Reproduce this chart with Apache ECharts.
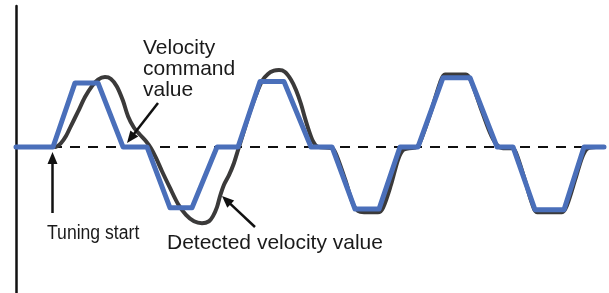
<!DOCTYPE html>
<html>
<head>
<meta charset="utf-8">
<script src="https://cdn.jsdelivr.net/npm/echarts@6/dist/echarts.min.js"></script>
<style>
html,body{margin:0;padding:0;background:#fff;}
#c{width:609px;height:293px;}
</style>
</head>
<body>
<div id="c"></div>
<script>
// time (arbitrary units) and velocity (% of command amplitude)
var commandTime = [0,37,59,82,107,131,154,176,201,222,244,268,295,316,339,363,384,402,427,454,481,497,519,548,568,588];
var commandValue = [0,0,100,100,0,0,-95,-95,0,0,102,102,0,0,-97,-97,0,0,108,108,0,0,-98,-98,0,0];

var detectedTime = [0,39,45,50,55,62,69,76,82,89,95,101,107,112,118,124,130,135,140,146,154,162,170,178,186,193,197,201,204,208,213,218,222,227,234,240,246,252,258,263,269,275,280,285,289,293,297,302,316,320,329,337,342,348,362,367,375,382,387,393,401,405,415,424,429,450,455,464,474,480,487,496,500,509,516,521,546,551,559,566,571,580,588];
var detectedValue = [0,0,6,17,33,55,78,95,105,109,106,94,72,48,30,19,9,-2,-17,-38,-64,-89,-106,-116,-119,-116,-108,-94,-77,-59,-44,-25,-5,20,55,81,103,114,119,120,117,105,89,67,45,25,9,0,-2,-11,-50,-89,-100,-102,-102,-95,-59,-20,-5,-2,0,11,55,100,113,113,103,64,22,5,-2,-2,-9,-52,-88,-102,-102,-91,-52,-17,-3,0,0];

var labelCommand = ['Velocity','command','value'];
var labelStart = 'Tuning start';
var labelDetected = 'Detected velocity value';

function pairs(xs, ys){ return xs.map(function(x,i){ return [x, ys[i]]; }); }

function arrow(x1,y1,x2,y2){
  var dx = x2-x1, dy = y2-y1, L = Math.sqrt(dx*dx+dy*dy);
  var ux = dx/L, uy = dy/L, hl = 12, hw = 5;
  var bx = x2 - ux*hl, by = y2 - uy*hl;
  return [
    {type:'line', shape:{x1:x1,y1:y1,x2:bx+ux*2,y2:by+uy*2}, style:{stroke:'#111',lineWidth:2.5}, z:20},
    {type:'polygon', shape:{points:[[x2,y2],[bx-uy*hw,by+ux*hw],[bx+uy*hw,by-ux*hw]]}, style:{fill:'#111'}, z:20}
  ];
}

var font = '"Liberation Sans", Arial, sans-serif';
function txt(s,x,y,size,sx){
  return {type:'text', x:x, y:y, z:20, scaleX: sx || 1, style:{text:s, fill:'#1a1a1a', font: size+'px '+font, textVerticalAlign:'middle', verticalAlign:'middle'}};
}

var graphics = [].concat(
  arrow(158,103,127,143),
  arrow(52.5,213,52.5,152),
  arrow(255,227,222,196),
  [txt(labelCommand[0],143,48,21), txt(labelCommand[1],143,69,21), txt(labelCommand[2],143,90,21),
   txt(labelStart,47,233,20,0.88), txt(labelDetected,167,243,21)]
);

var chart = echarts.init(document.getElementById('c'), null, {renderer:'canvas'});
chart.setOption({
  animation:false,
  grid:{left:16,right:0,top:6,bottom:0},
  xAxis:{type:'value',min:0,max:593,show:false},
  yAxis:{type:'value',min:-228,max:220,
    axisLine:{show:true,lineStyle:{color:'#111',width:2.5}},
    axisTick:{show:false},axisLabel:{show:false},splitLine:{show:false}},
  series:[
    {name:'Detected velocity value', type:'line', data:pairs(detectedTime,detectedValue),
      showSymbol:false, smooth:0.3, z:2,
      lineStyle:{color:'#3b3a3a',width:4,cap:'round',join:'round'},
      markLine:{silent:true, symbol:'none', z:1, label:{show:false},
        lineStyle:{color:'#111',width:2,type:[10,8]}, data:[{yAxis:0}]}},
    {name:'Velocity command value', type:'line', data:pairs(commandTime,commandValue),
      showSymbol:false, z:3,
      lineStyle:{color:'#4a6fba',width:5,cap:'round',join:'round'}}
  ],
  graphic:graphics
});
</script>
</body>
</html>
